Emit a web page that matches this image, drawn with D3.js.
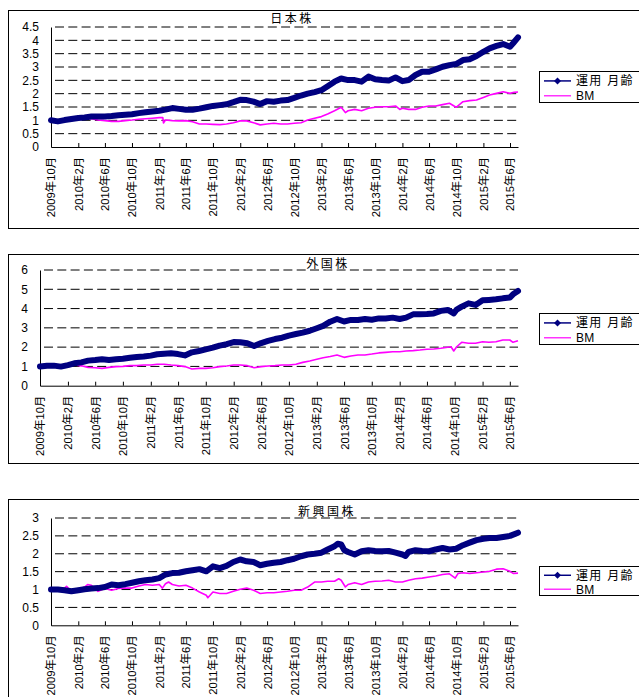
<!DOCTYPE html>
<html><head><meta charset="utf-8">
<script src="https://cdn.jsdelivr.net/npm/d3@7"></script>
<style>body{margin:0;background:#fff}svg{display:block}</style>
</head><body>
<script>
// ---------- data ----------
const titles = ["日本株", "外国株", "新興国株"];
const seriesNames = ["運用 月齢", "BM"];
const tickLabels = ["2009年10月","2010年2月","2010年6月","2010年10月","2011年2月","2011年6月","2011年10月","2012年2月","2012年6月","2012年10月","2013年2月","2013年6月","2013年10月","2014年2月","2014年6月","2014年10月","2015年2月","2015年6月"];
const dateRange = ["2009-10-01", "2015-07-07"];
const jpTicks = [0,0.5,1,1.5,2,2.5,3,3.5,4,4.5];
const fgTicks = [0,1,2,3,4,5,6];
const emTicks = [0,0.5,1,1.5,2,2.5,3];

const jpFund = [["2009-10",1.00],["2009-11",0.96],["2009-12",1.01],["2010-01",1.05],["2010-02",1.09],["2010-03",1.11],["2010-04",1.14],["2010-05",1.14],["2010-06",1.14],["2010-07",1.16],["2010-08",1.19],["2010-09",1.21],["2010-10",1.23],["2010-11",1.27],["2010-12",1.30],["2011-01",1.33],["2011-02",1.36],["2011-03",1.40],["2011-04",1.46],["2011-05",1.43],["2011-06",1.40],["2011-07",1.40],["2011-08",1.44],["2011-09",1.49],["2011-10",1.54],["2011-11",1.57],["2011-12",1.60],["2012-01",1.68],["2012-02",1.77],["2012-03",1.76],["2012-04",1.70],["2012-05",1.61],["2012-06",1.72],["2012-07",1.70],["2012-08",1.74],["2012-09",1.76],["2012-10",1.84],["2012-11",1.93],["2012-12",2.00],["2013-01",2.06],["2013-02",2.13],["2013-03",2.28],["2013-04",2.45],["2013-05",2.57],["2013-06",2.51],["2013-07",2.51],["2013-08",2.45],["2013-09",2.64],["2013-10",2.54],["2013-11",2.51],["2013-12",2.49],["2014-01",2.61],["2014-02",2.47],["2014-03",2.51],["2014-04",2.70],["2014-05",2.82],["2014-06",2.82],["2014-07",2.91],["2014-08",3.01],["2014-09",3.07],["2014-10",3.11],["2014-11",3.26],["2014-12",3.29],["2015-01",3.41],["2015-02",3.57],["2015-03",3.70],["2015-04",3.79],["2015-05",3.86],["2015-06",3.76],["2015-06-15",3.89],["2015-07-07",4.11]];
const jpBM = [["2009-10",1.00],["2009-11",0.98],["2009-12",1.01],["2010-01",1.03],["2010-02",1.06],["2010-03",1.08],["2010-04",1.06],["2010-05",1.01],["2010-06",0.99],["2010-07",0.96],["2010-08",0.96],["2010-09",0.99],["2010-10",1.01],["2010-11",1.04],["2010-12",1.06],["2011-01",1.08],["2011-02",1.10],["2011-02-17",1.10],["2011-02-20",0.90],["2011-03",1.01],["2011-04",0.99],["2011-05",0.98],["2011-06",0.99],["2011-07",0.95],["2011-08",0.86],["2011-09",0.86],["2011-10",0.85],["2011-11",0.84],["2011-12",0.86],["2012-01",0.91],["2012-02",0.98],["2012-03",0.98],["2012-04",0.91],["2012-05",0.83],["2012-06",0.86],["2012-07",0.89],["2012-08",0.86],["2012-09",0.86],["2012-10",0.89],["2012-11",0.91],["2012-12",1.01],["2013-01",1.08],["2013-02",1.14],["2013-03",1.24],["2013-04",1.36],["2013-05",1.49],["2013-05-20",1.29],["2013-06",1.36],["2013-07",1.41],["2013-08",1.36],["2013-09",1.45],["2013-10",1.49],["2013-11",1.51],["2013-12",1.51],["2014-01",1.54],["2014-01-20",1.41],["2014-02",1.45],["2014-03",1.41],["2014-04",1.41],["2014-05",1.49],["2014-06",1.54],["2014-07",1.54],["2014-08",1.59],["2014-09",1.64],["2014-10",1.49],["2014-10-20",1.62],["2014-11",1.70],["2014-12",1.74],["2015-01",1.76],["2015-02",1.86],["2015-03",1.95],["2015-04",2.01],["2015-05",2.07],["2015-06",2.01],["2015-06-20",2.05],["2015-07-07",2.06]];

const fgFund = [["2009-10",1.00],["2009-11",1.04],["2009-12",1.04],["2010-01",0.99],["2010-02",1.07],["2010-03",1.16],["2010-04",1.21],["2010-05",1.30],["2010-06",1.33],["2010-07",1.37],["2010-08",1.33],["2010-09",1.37],["2010-10",1.40],["2010-11",1.45],["2010-12",1.49],["2011-01",1.51],["2011-02",1.56],["2011-03",1.63],["2011-04",1.66],["2011-05",1.68],["2011-06",1.64],["2011-07",1.57],["2011-08",1.73],["2011-09",1.80],["2011-10",1.88],["2011-11",1.97],["2011-12",2.08],["2012-01",2.15],["2012-02",2.26],["2012-03",2.25],["2012-04",2.20],["2012-05",2.06],["2012-06",2.21],["2012-07",2.32],["2012-08",2.42],["2012-09",2.49],["2012-10",2.60],["2012-11",2.68],["2012-12",2.75],["2013-01",2.85],["2013-02",2.98],["2013-03",3.10],["2013-04",3.32],["2013-05",3.46],["2013-06",3.33],["2013-07",3.41],["2013-08",3.41],["2013-09",3.46],["2013-10",3.42],["2013-11",3.49],["2013-12",3.49],["2014-01",3.53],["2014-02",3.46],["2014-03",3.53],["2014-04",3.70],["2014-05",3.70],["2014-06",3.72],["2014-07",3.75],["2014-08",3.88],["2014-09",3.93],["2014-09-27",3.75],["2014-10-10",3.95],["2014-11",4.10],["2014-12",4.27],["2015-01",4.19],["2015-02",4.43],["2015-03",4.45],["2015-04",4.48],["2015-05",4.53],["2015-06",4.57],["2015-06-15",4.74],["2015-07-07",4.91]];
const fgBM = [["2009-10",1.00],["2009-11",1.02],["2009-12",1.03],["2010-01",1.00],["2010-02",1.05],["2010-03",1.08],["2010-04",1.03],["2010-05",0.95],["2010-06",0.93],["2010-07",0.90],["2010-08",0.95],["2010-09",0.99],["2010-10",1.00],["2010-11",1.04],["2010-12",1.04],["2011-01",1.07],["2011-02",1.07],["2011-03",1.11],["2011-04",1.11],["2011-05",1.07],["2011-06",1.04],["2011-07",0.99],["2011-08",0.87],["2011-09",0.90],["2011-10",0.90],["2011-11",0.93],["2011-12",0.99],["2012-01",1.02],["2012-02",1.07],["2012-03",1.07],["2012-04",1.04],["2012-05",0.93],["2012-06",0.99],["2012-07",1.02],["2012-08",1.04],["2012-09",1.07],["2012-10",1.07],["2012-11",1.11],["2012-12",1.21],["2013-01",1.28],["2013-02",1.37],["2013-03",1.45],["2013-04",1.51],["2013-05",1.59],["2013-06",1.47],["2013-07",1.54],["2013-08",1.59],["2013-09",1.59],["2013-10",1.64],["2013-11",1.70],["2013-12",1.73],["2014-01",1.76],["2014-02",1.76],["2014-03",1.80],["2014-04",1.82],["2014-05",1.85],["2014-06",1.89],["2014-07",1.90],["2014-08",1.94],["2014-09-15",2.02],["2014-09-27",1.80],["2014-10-10",2.02],["2014-11",2.25],["2014-12",2.20],["2015-01",2.20],["2015-02",2.28],["2015-03",2.25],["2015-04",2.28],["2015-05",2.37],["2015-06",2.37],["2015-06-15",2.25],["2015-07-07",2.33]];

const emFund = [["2009-10",1.00],["2009-11",1.00],["2009-12",0.98],["2010-01",0.95],["2010-02",0.98],["2010-03",1.01],["2010-04",1.03],["2010-05",1.04],["2010-06",1.07],["2010-07",1.14],["2010-08",1.12],["2010-09",1.15],["2010-10",1.19],["2010-11",1.23],["2010-12",1.26],["2011-01",1.28],["2011-02",1.32],["2011-03",1.42],["2011-04",1.46],["2011-05",1.47],["2011-06",1.51],["2011-07",1.54],["2011-08",1.57],["2011-09",1.51],["2011-10",1.65],["2011-11",1.60],["2011-12",1.66],["2012-01",1.77],["2012-02",1.84],["2012-03",1.79],["2012-04",1.77],["2012-05",1.68],["2012-06",1.72],["2012-07",1.75],["2012-08",1.77],["2012-09",1.82],["2012-10",1.86],["2012-11",1.93],["2012-12",1.98],["2013-01",2.00],["2013-02",2.03],["2013-03",2.12],["2013-04",2.21],["2013-04-15",2.28],["2013-05",2.26],["2013-05-15",2.10],["2013-06",2.05],["2013-07",1.98],["2013-08",2.07],["2013-09",2.10],["2013-10",2.08],["2013-11",2.07],["2013-12",2.08],["2014-01",2.03],["2014-02",1.98],["2014-02-15",1.94],["2014-03",2.05],["2014-04",2.10],["2014-05",2.08],["2014-06",2.07],["2014-07",2.12],["2014-08",2.16],["2014-09",2.12],["2014-10",2.14],["2014-11",2.24],["2014-12",2.31],["2015-01",2.38],["2015-02",2.42],["2015-03",2.44],["2015-04",2.44],["2015-05",2.47],["2015-06",2.50],["2015-07-07",2.59]];
const emBM = [["2009-10",1.00],["2009-11",1.00],["2009-12",1.04],["2009-12-10",1.09],["2010-01",0.95],["2010-02",1.00],["2010-03",1.07],["2010-03-15",1.14],["2010-04",1.12],["2010-05",0.95],["2010-06",1.03],["2010-07",0.98],["2010-08",1.03],["2010-09",1.04],["2010-10",1.04],["2010-11",1.10],["2010-12",1.14],["2011-01",1.12],["2011-02",1.14],["2011-02-15",1.04],["2011-03",1.16],["2011-03-15",1.21],["2011-04",1.14],["2011-05",1.10],["2011-06",1.12],["2011-07",1.04],["2011-08",0.93],["2011-09",0.84],["2011-09-08",0.77],["2011-10",0.93],["2011-11",0.89],["2011-12",0.89],["2012-01",0.95],["2012-02",1.01],["2012-03",1.04],["2012-04",0.98],["2012-05",0.89],["2012-06",0.91],["2012-07",0.91],["2012-08",0.93],["2012-09",0.95],["2012-10",0.98],["2012-11",0.98],["2012-12",1.07],["2013-01",1.21],["2013-02",1.21],["2013-03",1.23],["2013-04",1.23],["2013-04-20",1.30],["2013-05",1.26],["2013-05-20",1.07],["2013-06",1.14],["2013-07",1.19],["2013-08",1.14],["2013-09",1.21],["2013-10",1.23],["2013-11",1.24],["2013-12",1.26],["2014-01",1.21],["2014-02",1.21],["2014-03",1.26],["2014-04",1.30],["2014-05",1.32],["2014-06",1.35],["2014-07",1.38],["2014-08",1.42],["2014-09",1.44],["2014-09-27",1.32],["2014-10-10",1.45],["2014-11",1.47],["2014-12",1.45],["2015-01",1.47],["2015-02",1.49],["2015-03",1.51],["2015-04",1.57],["2015-05",1.58],["2015-06",1.51],["2015-06-15",1.45],["2015-07-07",1.46]];

// ---------- drawing ----------
const W = 639, H = 697;
const FUND = "#000080", BMC = "#ff00ff";
const FONT = "'Liberation Sans', Arial, 'Noto Sans CJK JP', sans-serif";
const CJK = "'Noto Sans CJK JP', sans-serif";

const pM = d3.timeParse("%Y-%m"), pD = d3.timeParse("%Y-%m-%d"), pL = d3.timeParse("%Y年%m月");
const toDate = s => s.length === 7 ? pM(s) : pD(s);
const prep = arr => arr.map(([d, v]) => ({date: toDate(d), v}));
const tickDates = tickLabels.map(pL);

const svg = d3.select("body").append("svg").attr("width", W).attr("height", H);

const panels = [
  {title: titles[0], fund: jpFund, bm: jpBM, ticks: jpTicks, top: 10.5, bottom: 228.5, left: 51, right: 518, yTop: 27, yBot: 147, tx: 292, ty: 19, ly: 71, lh: 31},
  {title: titles[1], fund: fgFund, bm: fgBM, ticks: fgTicks, top: 254.5, bottom: 463.5, left: 40, right: 518, yTop: 270, yBot: 385.7, tx: 328, ty: 263.5, ly: 313, lh: 31},
  {title: titles[2], fund: emFund, bm: emBM, ticks: emTicks, top: 499.5, bottom: 760, left: 51, right: 518, yTop: 518, yBot: 625.3, tx: 327, ty: 512, ly: 566, lh: 29}
];

panels.forEach(p => {
  const g = svg.append("g");
  g.append("rect").attr("x", 8.5).attr("y", p.top).attr("width", 700).attr("height", p.bottom - p.top)
    .attr("fill", "#fff").attr("stroke", "#000").attr("stroke-width", 1);

  const x = d3.scaleTime().domain(dateRange.map(pD)).range([p.left, p.right]);
  const y = d3.scaleLinear().domain([0, d3.max(p.ticks)]).range([p.yBot, p.yTop]);

  // dashed gridlines
  g.append("g").selectAll("line").data(p.ticks.filter(t => t > 0)).join("line")
    .attr("x1", p.left + 4).attr("x2", p.right)
    .attr("y1", d => y(d)).attr("y2", d => y(d))
    .attr("stroke", "#000").attr("stroke-width", 1).attr("stroke-dasharray", "9 4.3");

  // y axis
  const ya = g.append("g").attr("transform", `translate(${p.left},0)`)
    .call(d3.axisLeft(y).tickValues(p.ticks).tickSize(0).tickPadding(12).tickFormat(d => String(d)));
  ya.select(".domain").attr("stroke", "#000");
  ya.selectAll("text").attr("font-family", FONT).attr("font-size", 12).attr("fill", "#000");

  // x axis
  const xa = g.append("g").attr("transform", `translate(0,${p.yBot})`)
    .call(d3.axisBottom(x).tickValues(tickDates).tickFormat((d, i) => tickLabels[i]).tickSizeInner(-4).tickSizeOuter(0));
  xa.select(".domain").attr("stroke", "#000");
  xa.selectAll(".tick line").attr("stroke", "#000");
  xa.selectAll("text").attr("font-family", FONT).attr("font-size", 11.3).attr("fill", "#000")
    .attr("x", 0).attr("y", 0).attr("dy", "0.35em").attr("text-anchor", "end")
    .attr("transform", "translate(0,10) rotate(-90)");

  // lines
  const line = d3.line().x(d => x(d.date)).y(d => y(d.v));
  g.append("path").datum(prep(p.bm)).attr("d", line).attr("fill", "none")
    .attr("stroke", BMC).attr("stroke-width", 1.6).attr("stroke-linejoin", "round");
  g.append("path").datum(prep(p.fund)).attr("d", line).attr("fill", "none")
    .attr("stroke", FUND).attr("stroke-width", 6).attr("stroke-linejoin", "round").attr("stroke-linecap", "round");

  // title
  g.append("text").attr("x", p.tx).attr("y", p.ty).attr("dy", "0.36em").attr("text-anchor", "middle")
    .attr("font-family", CJK).attr("font-size", 12).attr("letter-spacing", "2.5px").attr("fill", "#000")
    .text(p.title);

  // legend
  const lg = g.append("g");
  lg.append("rect").attr("x", 539.5).attr("y", p.ly + 0.5).attr("width", 140).attr("height", p.lh)
    .attr("fill", "#fff").attr("stroke", "#000").attr("stroke-width", 1);
  const ey = [p.ly + p.lh * 0.32, p.ly + p.lh * 0.8];
  const cols = [FUND, BMC];
  seriesNames.forEach((name, i) => {
    lg.append("line").attr("x1", 544).attr("x2", 571).attr("y1", ey[i]).attr("y2", ey[i])
      .attr("stroke", cols[i]).attr("stroke-width", i === 0 ? 1.5 : 1.2);
    if (i === 0) {
      lg.append("path").attr("transform", `translate(557.5,${ey[i]})`)
        .attr("d", "M0,-3.5L3.5,0L0,3.5L-3.5,0Z").attr("fill", FUND);
    }
    lg.append("text").attr("x", 576).attr("y", ey[i]).attr("dy", "0.36em")
      .attr("font-family", FONT).attr("font-size", 12).attr("letter-spacing", i === 0 ? "1.3px" : "0.3px")
      .attr("fill", "#000").text(name);
  });
});
</script>
</body></html>
